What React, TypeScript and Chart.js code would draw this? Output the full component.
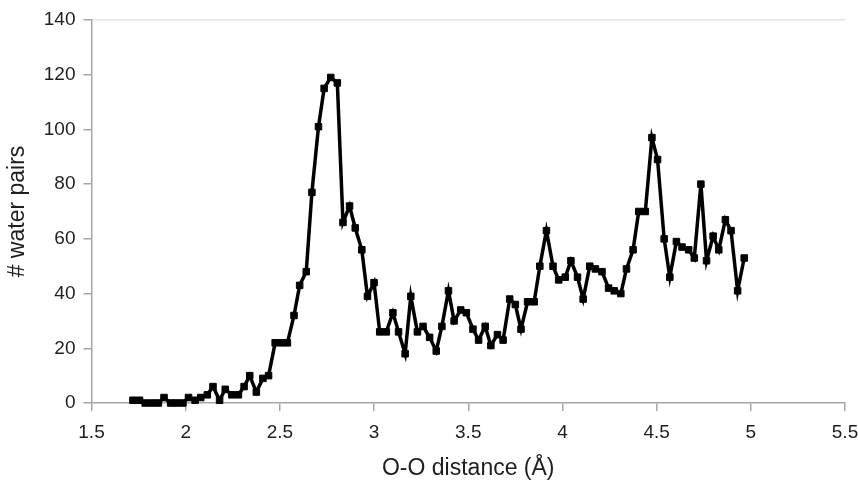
import React, { useEffect, useRef } from "react";
import { Chart, registerables } from "chart.js";

Chart.register(...registerables);

const distances: number[] = [
  1.72, 1.755, 1.785, 1.82, 1.855, 1.885, 1.92, 1.95, 1.985, 2.015,
  2.05, 2.08, 2.115, 2.145, 2.18, 2.21, 2.245, 2.28, 2.31, 2.34,
  2.375, 2.41, 2.44, 2.475, 2.51, 2.54, 2.575, 2.605, 2.64, 2.67,
  2.705, 2.735, 2.77, 2.805, 2.835, 2.87, 2.9, 2.935, 2.965, 3.0,
  3.03, 3.065, 3.1, 3.13, 3.165, 3.195, 3.23, 3.26, 3.295, 3.33,
  3.36, 3.395, 3.425, 3.46, 3.49, 3.525, 3.555, 3.59, 3.62, 3.655,
  3.685, 3.72, 3.75, 3.78, 3.815, 3.85, 3.88, 3.915, 3.95, 3.98,
  4.015, 4.045, 4.08, 4.11, 4.145, 4.175, 4.21, 4.245, 4.275, 4.31,
  4.34, 4.375, 4.405, 4.44, 4.475, 4.505, 4.54, 4.57, 4.605, 4.635,
  4.67, 4.7, 4.735, 4.765, 4.8, 4.83, 4.865, 4.895, 4.93, 4.965,
];

const waterPairs: number[] = [
  1, 1, 0, 0, 0, 2, 0, 0, 0, 2,
  1, 2, 3, 6, 1, 5, 3, 3, 6, 10,
  4, 9, 10, 22, 22, 22, 32, 43, 48, 77,
  101, 115, 119, 117, 66, 72, 64, 56, 39, 44,
  26, 26, 33, 26, 18, 39, 26, 28, 24, 19,
  28, 41, 30, 34, 33, 27, 23, 28, 21, 25,
  23, 38, 36, 27, 37, 37, 50, 63, 50, 45,
  46, 52, 46, 38, 50, 49, 48, 42, 41, 40,
  49, 56, 70, 70, 97, 89, 60, 46, 59, 57,
  56, 53, 80, 52, 61, 56, 67, 63, 41, 53,
];

const xTicks: number[] = [1.5, 2, 2.5, 3, 3.5, 4, 4.5, 5, 5.5];
const yTicks: number[] = [0, 20, 40, 60, 80, 100, 120, 140];

const xTitle = "O-O distance (Å)";
const yTitle = "# water pairs";

export default function App() {
  const ref = useRef<HTMLCanvasElement | null>(null);

  useEffect(() => {
    if (!ref.current) return;
    const axisColor = "#a6a6a6";
    const textColor = "#1e1e1e";
    const fontFamily = "'Liberation Sans', Arial, sans-serif";
    const chart = new Chart(ref.current, {
      type: "line",
      data: {
        datasets: [
          {
            data: distances.map((d, i) => ({ x: d, y: waterPairs[i] })),
            borderColor: "#000",
            backgroundColor: "#000",
            borderWidth: 3.5,
            pointStyle: "rect",
            pointRadius: 4.6,
            pointBorderWidth: 1,
            pointBorderColor: "#000",
            pointBackgroundColor: "#000",
            tension: 0,
            fill: false,
            clip: false,
          },
        ],
      },
      options: {
        animation: false,
        responsive: false,
        maintainAspectRatio: false,
        layout: { autoPadding: false, padding: { left: 0, right: 13, top: 20, bottom: 0 } },
        plugins: {
          legend: { display: false },
          tooltip: { enabled: false },
        },
        scales: {
          x: {
            type: "linear",
            min: 1.5,
            max: 5.5,
            afterBuildTicks: (scale: any) => {
              scale.ticks = xTicks.map((v) => ({ value: v }));
            },
            afterFit: (scale: any) => {
              scale.height = 79;
              scale.paddingLeft = 0;
              scale.paddingRight = 0;
            },
            ticks: {
              callback: (v: any) => String(v),
              color: textColor,
              font: { family: fontFamily, size: 19 },
              padding: 10,
              maxRotation: 0,
              autoSkip: false,
            },
            grid: {
              drawOnChartArea: false,
              drawTicks: true,
              tickLength: 8,
              color: axisColor,
              lineWidth: 1.5,
            },
            border: { color: axisColor, width: 1.5 },
            title: {
              display: true,
              text: xTitle,
              color: textColor,
              font: { family: fontFamily, size: 23 },
              padding: { top: 0, bottom: 0 },
            },
          },
          y: {
            type: "linear",
            min: 0,
            max: 140,
            afterBuildTicks: (scale: any) => {
              scale.ticks = yTicks.map((v) => ({ value: v }));
            },
            afterFit: (scale: any) => {
              scale.width = 91.5;
              scale.paddingTop = 0;
              scale.paddingBottom = 0;
            },
            ticks: {
              callback: (v: any) => String(v),
              color: textColor,
              font: { family: fontFamily, size: 19 },
              padding: 8,
              autoSkip: false,
            },
            grid: {
              drawOnChartArea: true,
              drawTicks: true,
              tickLength: 8,
              color: (ctx: any) =>
                ctx.tick && ctx.tick.value === 140 ? "#e4e4e4" : "rgba(0,0,0,0)",
              tickColor: axisColor,
              lineWidth: 1.5,
            },
            border: { color: axisColor, width: 1.5 },
            title: {
              display: true,
              text: yTitle,
              color: textColor,
              font: { family: fontFamily, size: 23 },
              padding: { top: 4, bottom: 0 },
            },
          },
        },
      },
    } as any);
    return () => chart.destroy();
  }, []);

  return (
    <div style={{ position: "absolute", left: 0, top: 0, width: 858, height: 482, background: "#fff" }}>
      <canvas ref={ref} width={858} height={482} style={{ width: 858, height: 482, display: "block" }} />
    </div>
  );
}
